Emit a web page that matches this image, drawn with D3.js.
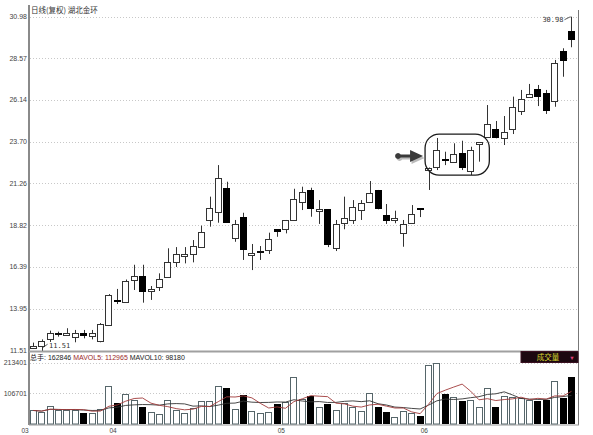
<!DOCTYPE html>
<html><head><meta charset="utf-8">
<script src="https://cdn.jsdelivr.net/npm/d3@7"></script>
<style>body{margin:0;background:#fff}svg{display:block}</style>
</head><body><svg id="c" width="593" height="435"></svg>
<script>
const opens  = [11.80,11.78,12.19,12.47,12.48,12.31,12.56,12.37,12.08,13.01,
                14.47,14.35,15.63,15.86,14.99,15.22,15.82,16.70,17.12,17.15,
                17.55,19.13,19.61,21.01,18.06,19.29,17.19,17.26,17.38,18.60,
                18.60,19.13,20.20,20.88,19.74,19.75,17.51,18.94,19.13,19.71,
                20.14,20.88,19.42,19.09,18.41,18.97,19.80,22.06,22.24,22.71,
                22.53,23.02,22.00,23.54,23.98,24.43,23.89,24.43,25.44,26.28,
                26.76,26.55,26.08,28.99,30.16];
const highs  = [11.98,12.17,12.68,12.62,12.82,12.72,12.72,12.72,13.12,14.81,
                15.11,15.66,16.52,16.52,15.28,16.02,17.48,17.55,17.55,17.96,
                18.80,20.49,22.33,21.36,19.13,19.55,17.73,17.61,18.39,18.60,
                19.13,20.95,21.07,21.01,20.29,19.75,19.13,20.49,20.29,20.29,
                21.40,20.88,20.06,19.67,19.13,20.00,19.80,22.19,23.91,23.11,
                23.60,23.75,23.40,23.66,25.83,24.90,25.19,26.32,26.71,27.06,
                27.00,26.71,28.46,29.14,30.98];
const lows   = [11.74,11.51,12.02,12.33,12.37,12.00,12.23,12.17,12.00,13.01,
                14.23,14.35,15.05,14.31,14.47,14.99,15.80,16.39,16.60,16.66,
                17.55,18.74,18.97,18.97,17.86,16.80,16.21,16.80,17.15,18.15,
                18.35,19.13,19.71,19.32,18.90,17.55,17.32,18.59,18.90,19.13,
                20.14,19.75,18.90,18.94,17.57,18.94,19.30,20.88,22.04,22.33,
                22.53,22.04,21.75,22.53,23.98,23.89,23.50,24.14,25.25,26.28,
                25.77,25.31,25.73,27.48,29.20];
const closes = [11.81,12.08,12.54,12.47,12.56,12.56,12.37,12.54,13.07,14.76,
                14.33,15.59,15.88,14.95,15.11,15.69,16.70,17.15,17.15,17.63,
                18.43,19.83,21.59,18.97,18.88,17.34,17.20,17.26,18.02,18.41,
                19.13,20.35,20.78,19.75,19.76,17.67,18.88,19.26,19.87,20.10,
                20.68,19.75,19.07,19.23,18.91,19.48,19.72,22.16,23.21,22.65,
                22.98,22.14,23.21,23.66,24.71,23.89,24.24,25.73,26.16,26.47,
                26.32,25.48,28.30,28.41,29.66];
const volumes = [47000,42800,63600,48700,48700,48700,39300,37200,51100,132100,
                 72000,104300,83400,60100,42800,33700,82000,48700,39300,54500,
                 81000,81000,132100,124000,51100,100800,46200,37200,42800,69500,
                 77500,162300,86000,97300,60100,69500,48700,74000,58000,44100,
                 106700,60100,41700,25400,44100,39300,28900,205000,211000,104300,
                 92800,80000,83400,60100,124000,60100,97300,95000,89300,83400,
                 81000,84000,150000,89300,162846];
const priceTicks = [11.51,13.95,16.39,18.82,21.26,23.70,26.14,28.57,30.98];
const volTicks = [106701,213401];
const monthLabels = ["03","04","05","06"];
const monthStart = [0,10,30,47];
const titleText = "日线(复权) 湖北金环";

const svg = d3.select("#c");
const n = opens.length;
const L = 29, R = 578;
const x = d3.scaleBand().domain(d3.range(n)).range([L, 575.7]).paddingInner(0.18).paddingOuter(0.09);
const step = x.step();
const y = d3.scaleLinear().domain([11.51, 30.98]).range([350.7, 16.7]);
const yv = d3.scaleLinear().domain([0, 213401]).range([424, 362.6]);
const fontNum = "'Liberation Sans', Arial, sans-serif";
const fontCJK = "'Noto Sans CJK SC', sans-serif";

// grid
svg.append("g").selectAll("line").data(priceTicks).join("line")
  .attr("x1", L+1).attr("x2", R).attr("y1", d=>Math.round(y(d))+0.5).attr("y2", d=>Math.round(y(d))+0.5)
  .attr("stroke", "#c8c8c8").attr("stroke-dasharray", "1,2");
svg.append("g").selectAll("line").data(volTicks).join("line")
  .attr("x1", L+1).attr("x2", R).attr("y1", d=>Math.round(yv(d))+0.5).attr("y2", d=>Math.round(yv(d))+0.5)
  .attr("stroke", "#c8c8c8").attr("stroke-dasharray", "1,2");

// y labels
svg.append("g").selectAll("text").data(priceTicks).join("text")
  .attr("x", 27).attr("y", d=>y(d)+2.5).attr("text-anchor","end")
  .attr("font-family", fontNum).attr("font-size", 7).attr("fill", "#444")
  .text(d=>d.toFixed(2));
svg.append("g").selectAll("text").data(volTicks).join("text")
  .attr("x", 27).attr("y", d=>yv(d)+2.5).attr("text-anchor","end")
  .attr("font-family", fontNum).attr("font-size", 7).attr("fill", "#444")
  .text(d=>d);

// frame
svg.append("line").attr("x1",L).attr("x2",L).attr("y1",5).attr("y2",425).attr("stroke","#8a8a8a").attr("stroke-width",2);
svg.append("line").attr("x1",R+0.5).attr("x2",R+0.5).attr("y1",10).attr("y2",425).attr("stroke","#777").attr("stroke-width",1);
svg.append("line").attr("x1",L).attr("x2",R+1).attr("y1",351.5).attr("y2",351.5).attr("stroke","#a0a0a0").attr("stroke-width",2);
svg.append("line").attr("x1",L).attr("x2",R+1).attr("y1",425).attr("y2",425).attr("stroke","#999").attr("stroke-width",1);

// month labels
svg.append("g").selectAll("text").data(monthStart).join("text")
  .attr("x", (d,i)=> i===0 ? 25 : x(d) - x.paddingInner()*step/2)
  .attr("y", 432.5).attr("text-anchor","middle")
  .attr("font-family", fontNum).attr("font-size", 6.5).attr("fill", "#444")
  .text((d,i)=>monthLabels[i]);

// title
svg.append("text").attr("x",31).attr("y",13).attr("font-family",fontCJK)
  .attr("font-size",7.5).attr("fill","#333").text(titleText);

// candles
const cg = svg.append("g");
const bw = Math.round(x.bandwidth());
d3.range(n).forEach(i=>{
  const cx = Math.round(x(i) + x.bandwidth()/2) + 0.5;
  const o = opens[i], c = closes[i];
  const up = c > o, flat = c === o;
  cg.append("line").attr("x1",cx).attr("x2",cx).attr("y1",y(highs[i])).attr("y2",y(lows[i]))
    .attr("stroke","#333").attr("stroke-width",1);
  const x0 = Math.round(x(i));
  if (flat) {
    cg.append("rect").attr("x",x0).attr("y",Math.round(y(o))-1).attr("width",bw).attr("height",2)
      .attr("fill","#111");
  } else {
    const top = y(Math.max(o,c)), bot = y(Math.min(o,c));
    const h = Math.max(1.5, bot-top);
    if (up) {
      cg.append("rect").attr("x",x0+0.5).attr("y",Math.round(top)+0.5).attr("width",bw-1).attr("height",Math.max(1,Math.round(h)))
        .attr("fill","#fff").attr("stroke","#333").attr("stroke-width",1);
    } else {
      cg.append("rect").attr("x",x0).attr("y",Math.round(top)).attr("width",bw).attr("height",Math.max(2,Math.round(h)))
        .attr("fill","#000");
    }
  }
});

// volume bars
const vg = svg.append("g");
d3.range(n).forEach(i=>{
  const x0 = Math.round(x(i));
  const top = Math.round(yv(volumes[i]));
  const down = closes[i] < opens[i];
  if (down) {
    vg.append("rect").attr("x",x0).attr("y",top).attr("width",bw).attr("height",424-top).attr("fill","#000");
  } else {
    vg.append("rect").attr("x",x0+0.5).attr("y",top+0.5).attr("width",bw-1).attr("height",424-top-0.5)
      .attr("fill","#fff").attr("stroke","#56666a").attr("stroke-width",1);
  }
});

// moving averages of volume
function ma(k){ return volumes.map((v,i)=>d3.mean(volumes.slice(Math.max(0,i-k+1), i+1))); }
const line = d3.line().x((d,i)=>x(i)+x.bandwidth()/2).y(d=>yv(d));
svg.append("path").attr("d", line(ma(10))).attr("fill","none").attr("stroke","#333").attr("stroke-width",0.9);
svg.append("path").attr("d", line(ma(5))).attr("fill","none").attr("stroke","#a03a3a").attr("stroke-width",0.9);

// volume legend text
const lt = svg.append("text").attr("x",30).attr("y",359.5).attr("font-family",fontNum).attr("font-size",7);
lt.append("tspan").attr("fill","#222").attr("font-family",fontCJK).text("总手");
lt.append("tspan").attr("fill","#222").text(": 162846");
lt.append("tspan").attr("fill","#9a2a2a").text(" MAVOL5: 112965");
lt.append("tspan").attr("fill","#222").text(" MAVOL10: 98180");

// legend box
svg.append("rect").attr("x",521).attr("y",351.5).attr("width",57).attr("height",11).attr("fill","#1c0810").attr("stroke","#3a1020");
svg.append("text").attr("x",548).attr("y",360).attr("text-anchor","middle").attr("font-family",fontCJK)
  .attr("font-size",7.5).attr("fill","#d8d830").text("成交量");
svg.append("text").attr("x",572).attr("y",359.5).attr("text-anchor","middle").attr("font-family",fontNum)
  .attr("font-size",5.5).attr("fill","#e0407a").text("▼");

// extreme labels
const lowIdx = d3.minIndex(lows), highIdx = d3.maxIndex(highs);
const lx = x(lowIdx)+x.bandwidth()/2, ly = y(lows[lowIdx]);
svg.append("line").attr("x1",lx+1).attr("y1",ly-3).attr("x2",lx+6).attr("y2",ly-6.5).attr("stroke","#333").attr("stroke-width",0.8);
svg.append("text").attr("x",lx+7.5).attr("y",ly-2.5).attr("font-family","'DejaVu Sans Mono', monospace").attr("font-size",7).attr("fill","#333").text(lows[lowIdx].toFixed(2));
const hx = x(highIdx)+x.bandwidth()/2, hy = y(highs[highIdx]);
svg.append("line").attr("x1",hx-1).attr("y1",hy).attr("x2",hx-7).attr("y2",hy+3).attr("stroke","#333").attr("stroke-width",0.8);
svg.append("text").attr("x",hx-8).attr("y",hy+5.5).attr("text-anchor","end").attr("font-family","'DejaVu Sans Mono', monospace").attr("font-size",7).attr("fill","#333").text(highs[highIdx].toFixed(2));

// annotation: rounded box around consolidation and arrow
const bx0 = x(47), bx1 = x(54) + x.bandwidth() - 1.5;
const byTop = y(24.14), byBot = y(21.75);
svg.append("rect").attr("x",bx0).attr("y",byTop).attr("width",bx1-bx0).attr("height",byBot-byTop)
  .attr("rx",14).attr("ry",14).attr("fill","none").attr("stroke","#1a1a1a").attr("stroke-width",1.3);
const ax = bx0 - 2, ay = y(22.86);
const arrowPath = `M${ax-28},${ay} a3,3 0 1,1 0,0.01 Z M${ax-26},${ay-1.6} L${ax-13},${ay-1.6} L${ax-13},${ay-6} L${ax},${ay} L${ax-13},${ay+6} L${ax-13},${ay+1.6} L${ax-26},${ay+1.6} Z`;
svg.append("path").attr("d",arrowPath).attr("fill","#bbb").attr("transform","translate(1.5,2)");
svg.append("path").attr("d",arrowPath).attr("fill","#3a3a3a");
</script></body></html>
